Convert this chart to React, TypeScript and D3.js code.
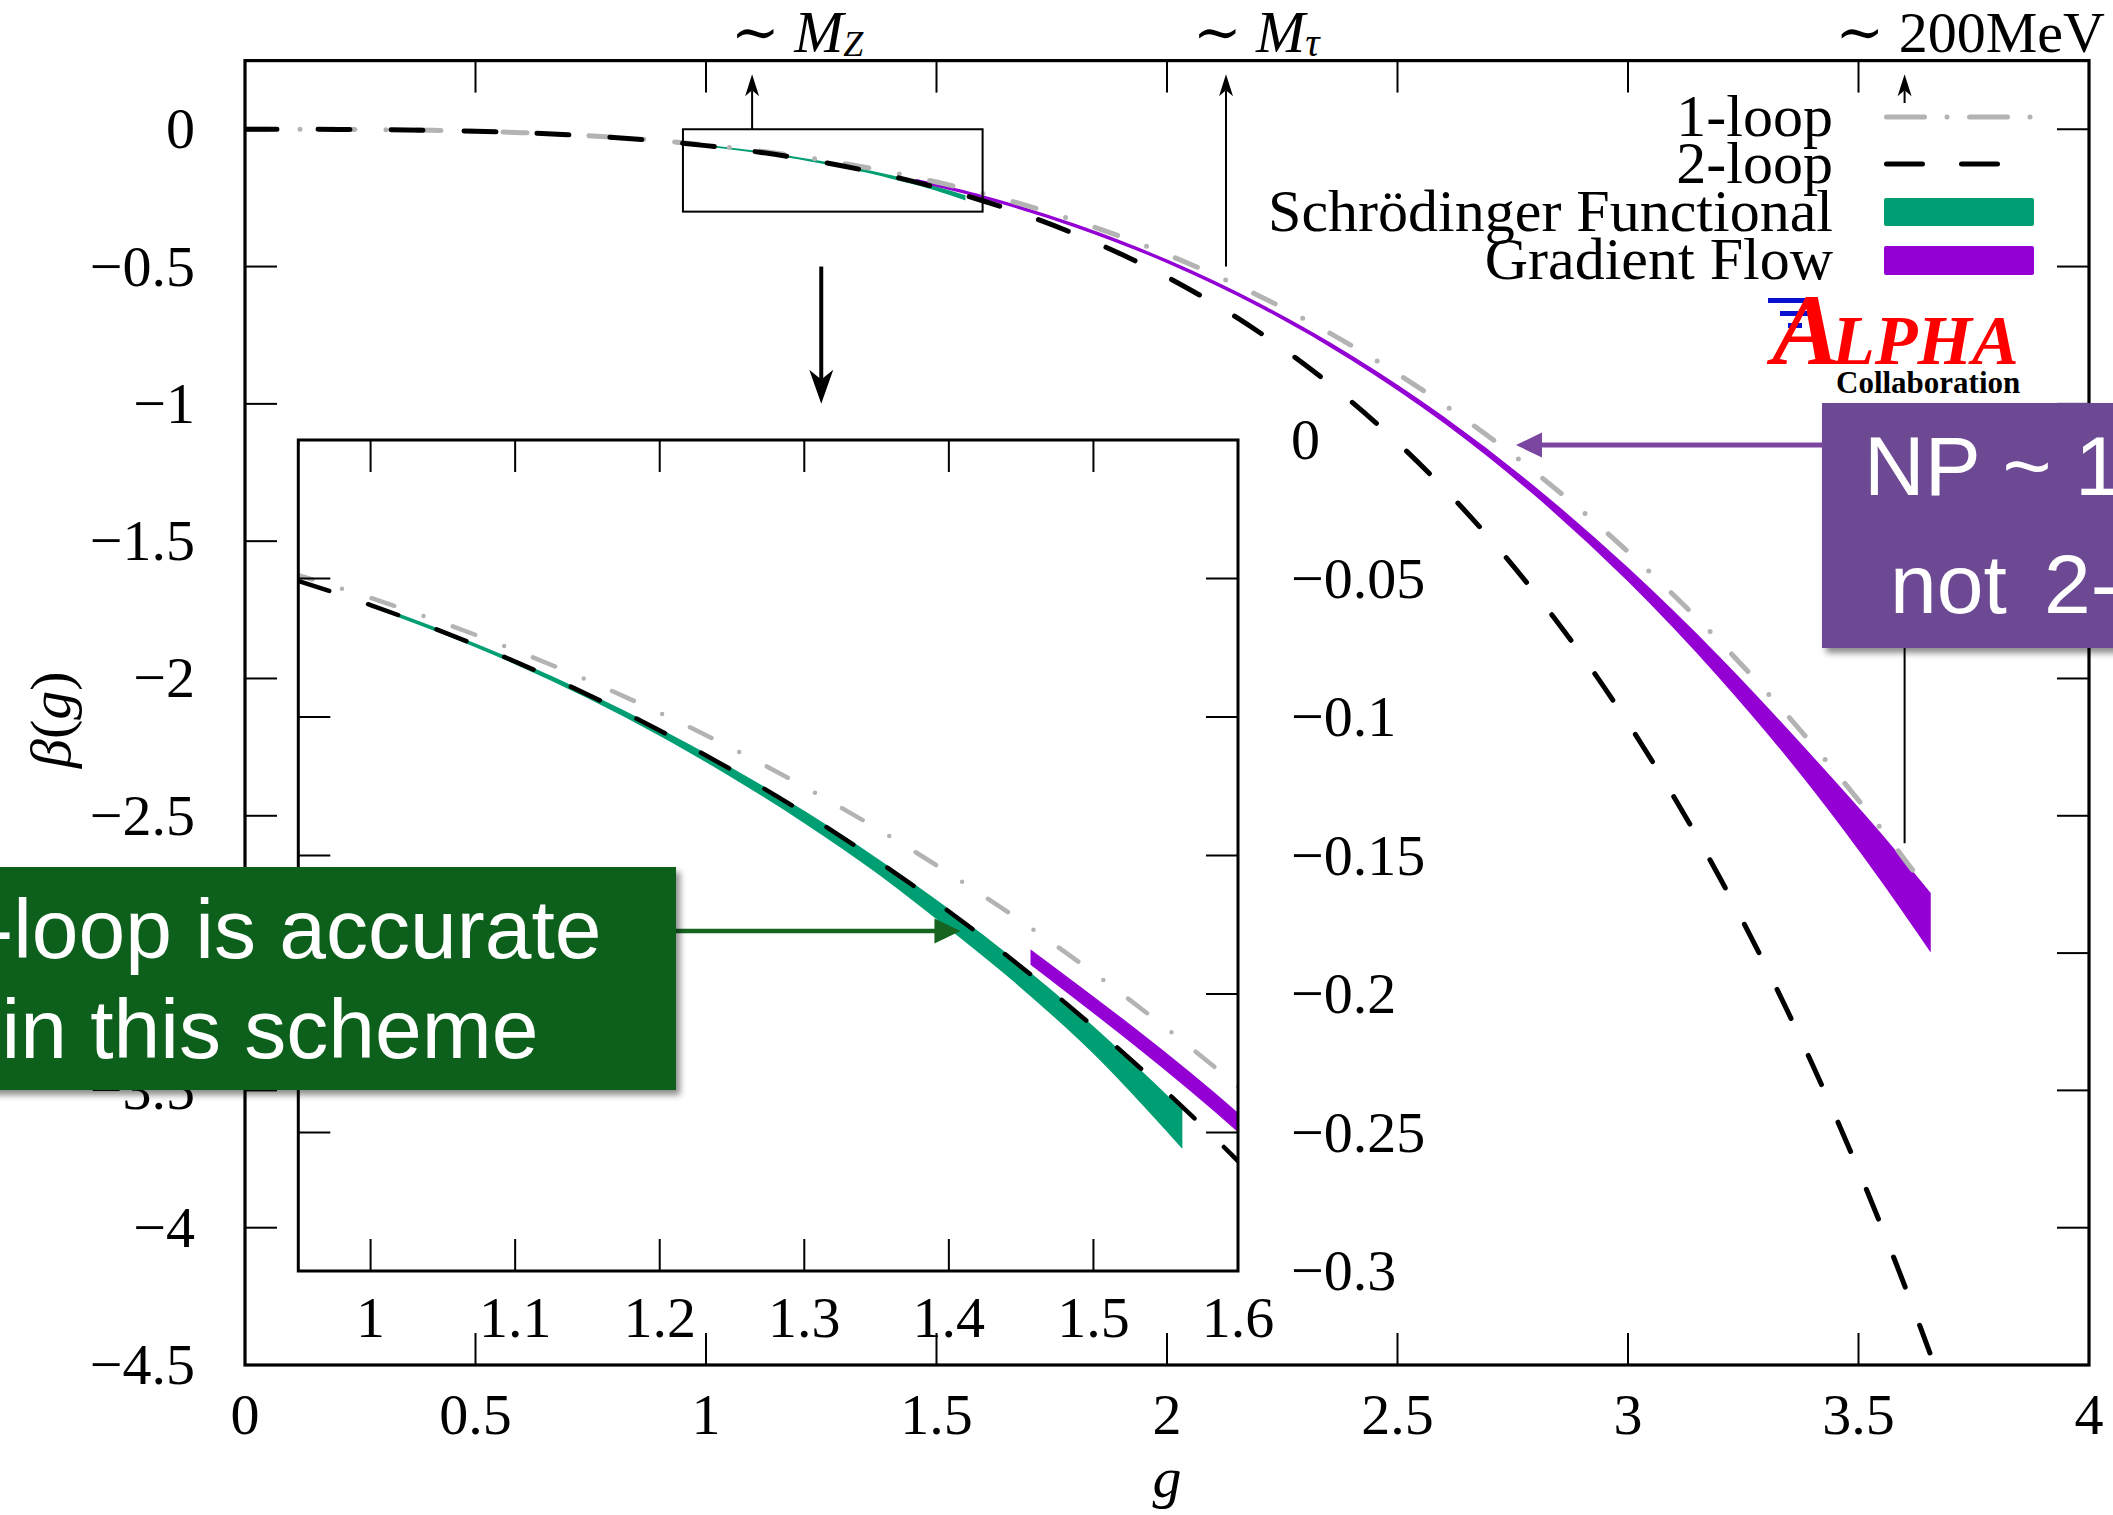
import React from "react";
import * as d3 from "d3";

const W = 2113;
const H = 1515;

// Perturbative beta functions beta(g), sampled on a coupling grid
const gGrid = [0, 0.1, 0.2, 0.3, 0.4, 0.5, 0.6, 0.7, 0.8, 0.9, 1.0, 1.1, 1.2, 1.3, 1.4, 1.5, 1.6, 1.7, 1.8, 1.9, 2.0, 2.1, 2.2, 2.3, 2.4, 2.5, 2.6, 2.7, 2.8, 2.9, 3.0, 3.1, 3.2, 3.3, 3.4, 3.5, 3.6, 3.655];
const betaOneLoop = [0, -0.0001, -0.0005, -0.0015, -0.0036, -0.0071, -0.0123, -0.0195, -0.0292, -0.0415, -0.057, -0.0759, -0.0985, -0.1252, -0.1564, -0.1923, -0.2334, -0.28, -0.3324, -0.3909, -0.4559, -0.5278, -0.6068, -0.6934, -0.7878, -0.8905, -1.0017, -1.1217, -1.251, -1.3899, -1.5387, -1.6978, -1.8674, -2.0481, -2.2399, -2.4434, -2.6589, -2.7826];
const betaTwoLoop = [0, -0.0001, -0.0005, -0.0015, -0.0037, -0.0072, -0.0125, -0.02, -0.03, -0.0431, -0.0596, -0.08, -0.1049, -0.1347, -0.1702, -0.2118, -0.2603, -0.3164, -0.3809, -0.4544, -0.538, -0.6326, -0.7391, -0.8586, -0.9921, -1.1411, -1.3065, -1.4899, -1.6927, -1.9162, -2.1623, -2.4324, -2.7285, -3.0523, -3.4058, -3.7912, -4.2105, -4.4564];

// Schrödinger Functional non-perturbative band
const sfG = [1.0, 1.05, 1.1, 1.15, 1.2, 1.25, 1.3, 1.35, 1.4, 1.45, 1.5, 1.561];
const sfUpper = [-0.0593, -0.069, -0.0797, -0.0915, -0.1045, -0.1187, -0.1342, -0.1512, -0.1696, -0.1898, -0.212, -0.2419];
const sfLower = [-0.06, -0.0698, -0.0807, -0.0929, -0.1065, -0.1216, -0.138, -0.156, -0.1762, -0.1975, -0.2212, -0.2552];

// Gradient Flow non-perturbative band
const gfG = [1.457, 1.6, 1.8, 2.0, 2.2, 2.4, 2.6, 2.8, 3.0, 3.2, 3.4, 3.55, 3.655];
const gfUpper = [-0.1844, -0.2432, -0.3473, -0.4774, -0.6366, -0.8264, -1.0497, -1.3074, -1.6003, -1.9272, -2.287, -2.5701, -2.7827];
const gfLower = [-0.1893, -0.2495, -0.3537, -0.4842, -0.6444, -0.8375, -1.0658, -1.3336, -1.6434, -1.9982, -2.399, -2.7358, -2.9888];

// Axes
const mainXTicks = [0, 0.5, 1, 1.5, 2, 2.5, 3, 3.5, 4];
const mainXLabels = ["0", "0.5", "1", "1.5", "2", "2.5", "3", "3.5", "4"];
const mainYTicks = [0, -0.5, -1, -1.5, -2, -2.5, -3, -3.5, -4, -4.5];
const mainYLabels = ["0", "\u22120.5", "\u22121", "\u22121.5", "\u22122", "\u22122.5", "\u22123", "\u22123.5", "\u22124", "\u22124.5"];
const insetXTicks = [1, 1.1, 1.2, 1.3, 1.4, 1.5, 1.6];
const insetXLabels = ["1", "1.1", "1.2", "1.3", "1.4", "1.5", "1.6"];
const insetYTicks = [0, -0.05, -0.1, -0.15, -0.2, -0.25, -0.3];
const insetYLabels = ["0", "\u22120.05", "\u22120.1", "\u22120.15", "\u22120.2", "\u22120.25", "\u22120.3"];

const legendLabels = ["1-loop", "2-loop", "Schr\u00f6dinger Functional", "Gradient Flow"];

// Scale markers: coupling where each energy scale sits, and where the arrow starts
const scaleMarkG = [1.1, 2.128, 3.6];
const scaleMarkBeta = [0, -0.5, -2.6];

const SERIF = "'Liberation Serif', 'DejaVu Serif', 'Times New Roman', serif";
const SANS = "'Liberation Sans', Arial, Helvetica, sans-serif";
const C_ONE = "#b3b3b3";
const C_SF = "#009e73";
const C_GF = "#9400d3";

type P = [number, number];
const zip = (a: number[], b: number[]): P[] => a.map((v, i) => [v, b[i]] as P);
const zip3 = (a: number[], b: number[], c: number[]) => a.map((v, i) => ({ g: v, lo: b[i], hi: c[i] }));

export default function App() {
  // main panel
  const x = d3.scaleLinear().domain([0, 4]).range([245, 2089]);
  const y = d3.scaleLinear().domain([-4.5, 0.25]).range([1365, 60.6]);
  // zoomed inset
  const xi = d3.scaleLinear().domain([0.95, 1.6]).range([298.3, 1238]);
  const yi = d3.scaleLinear().domain([-0.3, 0]).range([1271, 440]);

  const mkLine = (sx: any, sy: any) =>
    d3.line<P>().x((d) => sx(d[0])).y((d) => sy(d[1])).curve(d3.curveMonotoneX);
  const mkArea = (sx: any, sy: any) =>
    d3
      .area<{ g: number; lo: number; hi: number }>()
      .x((d) => sx(d.g))
      .y0((d) => sy(d.lo))
      .y1((d) => sy(d.hi))
      .curve(d3.curveMonotoneX);

  const one = zip(gGrid, betaOneLoop);
  const two = zip(gGrid, betaTwoLoop);
  const sf = zip3(sfG, sfLower, sfUpper);
  const gf = zip3(gfG, gfLower, gfUpper);

  const TICK = 32;
  const [x0, x1] = x.range();
  const [yb, yt] = y.range();
  const [ix0, ix1] = xi.range();
  const [iyb, iyt] = yi.range();

  const dashOne = "24 31 0 31";
  const dashTwo = "32 41";

  const upHead = (px: number, py: number, len: number, half: number) =>
    `M${px},${py} L${px - half},${py + len} L${px},${py + len * 0.72} L${px + half},${py + len} Z`;
  const downHead = (px: number, py: number, len: number, half: number) =>
    `M${px},${py} L${px - half},${py - len} L${px},${py - len * 0.72} L${px + half},${py - len} Z`;

  const arrowTopY = y(0.2);
  const legendRowY = [117, 164, 212, 260];
  const legendTextX = 1833;
  const sampleX0 = 1884;
  const sampleX1 = 2034;

  const sfArrowTip: P = [xi(1.408), yi(-0.1773)];
  const gfArrowTip: P = [x(2.757), y(-1.15)];

  return (
    <svg
      width={W}
      height={H}
      viewBox={`0 0 ${W} ${H}`}
      style={{ position: "fixed", left: 0, top: 0, background: "#fff" }}
    >
      <defs>
        <clipPath id="mainClip">
          <rect x={x0} y={yt} width={x1 - x0} height={yb - yt} />
        </clipPath>
        <clipPath id="insetClip">
          <rect x={ix0} y={iyt} width={ix1 - ix0} height={iyb - iyt} />
        </clipPath>
        <filter id="boxShadow" x="-10%" y="-10%" width="130%" height="140%">
          <feDropShadow dx="4" dy="5" stdDeviation="3" floodColor="#000" floodOpacity="0.45" />
        </filter>
      </defs>

      <rect x={0} y={0} width={W} height={H} fill="#fff" />

      {/* ---------- main panel curves ---------- */}
      <g clipPath="url(#mainClip)">
        <path d={mkArea(x, y)(sf) || ""} fill={C_SF} stroke={C_SF} strokeWidth={1.6} />
        <path d={mkArea(x, y)(gf) || ""} fill={C_GF} stroke={C_GF} strokeWidth={1.6} />
        <path d={mkLine(x, y)(one) || ""} fill="none" stroke={C_ONE} strokeWidth={5} strokeDasharray={dashOne} strokeLinecap="round" />
        <path d={mkLine(x, y)(two) || ""} fill="none" stroke="#000" strokeWidth={5} strokeDasharray={dashTwo} strokeLinecap="round" />
      </g>

      {/* main ticks */}
      <g stroke="#000" strokeWidth={2}>
        {mainXTicks.map((t, i) => (
          <g key={"mx" + i}>
            <line x1={x(t)} x2={x(t)} y1={yb} y2={yb - TICK} />
            <line x1={x(t)} x2={x(t)} y1={yt} y2={yt + TICK} />
          </g>
        ))}
        {mainYTicks.map((t, i) => (
          <g key={"my" + i}>
            <line x1={x0} x2={x0 + TICK} y1={y(t)} y2={y(t)} />
            <line x1={x1} x2={x1 - TICK} y1={y(t)} y2={y(t)} />
          </g>
        ))}
      </g>
      <rect x={x0} y={yt} width={x1 - x0} height={yb - yt} fill="none" stroke="#000" strokeWidth={3.2} />

      {/* main tick labels */}
      <g fontFamily={SERIF} fontSize={58} fill="#000">
        {mainXTicks.map((t, i) => (
          <text key={"mxl" + i} x={x(t)} y={1434} textAnchor="middle">
            {mainXLabels[i]}
          </text>
        ))}
        {mainYTicks.map((t, i) => (
          <text key={"myl" + i} x={195} y={y(t) + 19} textAnchor="end">
            {mainYLabels[i]}
          </text>
        ))}
        <text x={x(2)} y={1497} textAnchor="middle" fontStyle="italic">
          g
        </text>
        <text transform={`translate(51,${y(-2.15)}) rotate(-90)`} textAnchor="middle" dy="0.33em">
          <tspan fontStyle="italic">{"\u03b2"}</tspan>
          <tspan>(</tspan>
          <tspan fontStyle="italic">g</tspan>
          <tspan>)</tspan>
        </text>
      </g>

      {/* zoom window */}
      <rect
        x={x(0.95)}
        y={y(0)}
        width={x(1.6) - x(0.95)}
        height={y(-0.3) - y(0)}
        fill="none"
        stroke="#000"
        strokeWidth={2}
      />

      {/* scale markers */}
      <g stroke="#000" strokeWidth={2}>
        <line x1={x(scaleMarkG[0])} x2={x(scaleMarkG[0])} y1={y(scaleMarkBeta[0])} y2={arrowTopY + 16} />
        <line x1={x(scaleMarkG[1])} x2={x(scaleMarkG[1])} y1={y(scaleMarkBeta[1])} y2={arrowTopY + 16} />
        <line x1={x(scaleMarkG[2])} x2={x(scaleMarkG[2])} y1={103} y2={arrowTopY + 16} />
        <line x1={x(scaleMarkG[2])} x2={x(scaleMarkG[2])} y1={600} y2={y(scaleMarkBeta[2])} />
      </g>
      <g fill="#000">
        {scaleMarkG.map((g, i) => (
          <path key={"ah" + i} d={upHead(x(g), arrowTopY, 22, 7)} />
        ))}
      </g>

      {/* arrow from zoom window to inset */}
      <line x1={x(1.25)} x2={x(1.25)} y1={y(-0.5)} y2={y(-1.0) - 20} stroke="#000" strokeWidth={4} />
      <path d={downHead(x(1.25), y(-1.0), 34, 12)} fill="#000" />

      <g fontFamily={SERIF} fontSize={58} fill="#000">
        <text x={x(scaleMarkG[0]) - 21} y={52}>
          {"\u223c "}
          <tspan fontStyle="italic" fontSize={59}>M</tspan>
          <tspan fontStyle="italic" fontSize={36} dy={4}>
            Z
          </tspan>
        </text>
        <text x={x(scaleMarkG[1]) - 33} y={52}>
          {"\u223c "}
          <tspan fontStyle="italic" fontSize={59}>M</tspan>
          <tspan fontStyle="italic" fontSize={40} dy={4}>
            {"\u03c4"}
          </tspan>
        </text>
        <text x={x(scaleMarkG[2]) - 69} y={52}>
          {"\u223c 200MeV"}
        </text>
      </g>

      {/* legend */}
      <g fontFamily={SERIF} fontSize={60} fill="#000">
        {legendLabels.map((l, i) => (
          <text key={"lg" + i} x={legendTextX} y={legendRowY[i] + 19} textAnchor="end">
            {l}
          </text>
        ))}
      </g>
      <line x1={sampleX0 + 2.5} x2={sampleX1} y1={legendRowY[0]} y2={legendRowY[0]} stroke={C_ONE} strokeWidth={5} strokeDasharray="38 22.5 0 22.5" strokeLinecap="round" />
      <line x1={sampleX0 + 2.5} x2={sampleX1} y1={legendRowY[1]} y2={legendRowY[1]} stroke="#000" strokeWidth={5} strokeDasharray="36 39" strokeLinecap="round" />
      <rect x={sampleX0} y={legendRowY[2] - 14} width={sampleX1 - sampleX0} height={28} rx={2} fill={C_SF} />
      <rect x={sampleX0} y={legendRowY[3] - 14} width={sampleX1 - sampleX0} height={29} rx={2} fill={C_GF} />

      {/* collaboration logo */}
      <g>
        <rect x={1768} y={298} width={50} height={5} fill="#0a10d0" />
        <rect x={1780} y={311} width={28} height={5} fill="#0a10d0" />
        <rect x={1788} y={323} width={14} height={5} fill="#0a10d0" />
        <text x={1772} y={364} fontFamily={SERIF} fontStyle="italic" fontWeight="bold" fontSize={102} fill="#ff0000">
          A
        </text>
        <text x={1832} y={364} fontFamily={SERIF} fontStyle="italic" fontWeight="bold" fontSize={70} fill="#ff0000">
          LPHA
        </text>
        <text x={1836} y={393} fontFamily={SERIF} fontWeight="bold" fontSize={31} fill="#000">
          Collaboration
        </text>
      </g>

      {/* ---------- inset ---------- */}
      <rect x={ix0} y={iyt} width={ix1 - ix0} height={iyb - iyt} fill="#fff" />
      <g clipPath="url(#insetClip)">
        <path d={mkArea(xi, yi)(sf) || ""} fill={C_SF} stroke={C_SF} strokeWidth={1.5} />
        <path d={mkArea(xi, yi)(gf) || ""} fill={C_GF} stroke={C_GF} strokeWidth={1.5} />
        <path d={mkLine(xi, yi)(one) || ""} fill="none" stroke={C_ONE} strokeWidth={4.5} strokeDasharray={dashOne} strokeLinecap="round" />
        <path d={mkLine(xi, yi)(two) || ""} fill="none" stroke="#000" strokeWidth={4.5} strokeDasharray={dashTwo} strokeLinecap="round" />
      </g>
      <g stroke="#000" strokeWidth={2}>
        {insetXTicks.map((t, i) => (
          <g key={"ix" + i}>
            <line x1={xi(t)} x2={xi(t)} y1={iyb} y2={iyb - TICK} />
            <line x1={xi(t)} x2={xi(t)} y1={iyt} y2={iyt + TICK} />
          </g>
        ))}
        {insetYTicks.map((t, i) => (
          <g key={"iy" + i}>
            <line x1={ix0} x2={ix0 + TICK} y1={yi(t)} y2={yi(t)} />
            <line x1={ix1} x2={ix1 - TICK} y1={yi(t)} y2={yi(t)} />
          </g>
        ))}
      </g>
      <rect x={ix0} y={iyt} width={ix1 - ix0} height={iyb - iyt} fill="none" stroke="#000" strokeWidth={3} />
      <g fontFamily={SERIF} fontSize={58} fill="#000">
        {insetXTicks.map((t, i) => (
          <text key={"ixl" + i} x={xi(t)} y={1337} textAnchor="middle">
            {insetXLabels[i]}
          </text>
        ))}
        {insetYTicks.map((t, i) => (
          <text key={"iyl" + i} x={1291} y={yi(t) + 19} textAnchor="start">
            {insetYLabels[i]}
          </text>
        ))}
      </g>

      {/* ---------- callouts ---------- */}
      <line x1={676} x2={sfArrowTip[0] - 22} y1={sfArrowTip[1]} y2={sfArrowTip[1]} stroke="#16641f" strokeWidth={4.5} />
      <path
        d={`M${sfArrowTip[0]},${sfArrowTip[1]} L${sfArrowTip[0] - 26},${sfArrowTip[1] - 12.5} L${sfArrowTip[0] - 26},${sfArrowTip[1] + 12.5} Z`}
        fill="#16641f"
      />
      <rect x={-30} y={867} width={706} height={223} fill="#0f5e1b" filter="url(#boxShadow)" />
      <g fontFamily={SANS} fontSize={84} fill="#fff" textAnchor="middle">
        <text x={270} y={958}>2-loop is accurate</text>
        <text x={270} y={1058}>in this scheme</text>
      </g>

      <line x1={1822} x2={gfArrowTip[0] + 22} y1={gfArrowTip[1]} y2={gfArrowTip[1]} stroke="#7a46a0" strokeWidth={5} />
      <path
        d={`M${gfArrowTip[0]},${gfArrowTip[1]} L${gfArrowTip[0] + 26},${gfArrowTip[1] - 12.5} L${gfArrowTip[0] + 26},${gfArrowTip[1] + 12.5} Z`}
        fill="#7a46a0"
      />
      <rect x={1822} y={403} width={330} height={245} fill="#6c4a92" filter="url(#boxShadow)" />
      <g fontFamily={SANS} fontSize={84} fill="#fff">
        <text x={1864} y={495}>NP ~ 10%</text>
        <text x={1890} y={613} wordSpacing={14}>not 2-loop</text>
      </g>
    </svg>
  );
}
